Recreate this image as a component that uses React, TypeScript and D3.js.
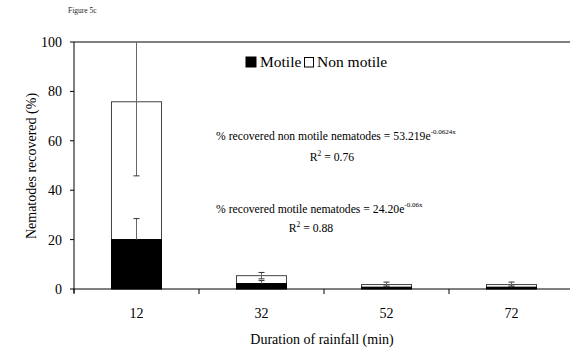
import React from "react";
import * as d3 from "d3";

const durations = ["12", "32", "52", "72"];
const motile = [20, 2.2, 0.7, 0.7];
const nonMotile = [55.8, 3.2, 1.1, 1.1];
const motileErr = [8.5, 1.2, 0.5, 0.5];
const totalErr = [30, 1.3, 1.0, 1.0];
const yTicks = [0, 20, 40, 60, 80, 100];

const W = 570;
const H = 352;
const left = 74;
const right = 574;
const top = 42;
const bottom = 289;
const FONT = '"Liberation Serif", "Times New Roman", Times, "DejaVu Serif", serif';

export default function App() {
  const x = d3.scaleBand<string>().domain(durations).range([left, right]).paddingInner(0.6).paddingOuter(0.3);
  const y = d3.scaleLinear().domain([0, 100]).range([bottom, top]);
  const step = x.step();
  const bw = x.bandwidth();
  const boundaries = d3.range(durations.length + 1).map((i) => left + i * step);
  const cap = 3;
  const errColor = "#666";

  return (
    <svg width={W} height={H} style={{ position: "absolute", left: 0, top: 0, background: "#fff", fontFamily: FONT }}>
      <defs>
        <clipPath id="plot">
          <rect x={left} y={top} width={right - left} height={bottom - top + 1} />
        </clipPath>
      </defs>
      <text x={68} y={13} fontSize={7.5} fill="#222">Figure 5c</text>

      <line x1={left} x2={right} y1={top} y2={top} stroke="#000" />

      <g clipPath="url(#plot)">
        {durations.map((d, i) => {
          const x0 = x(d)!;
          const cx = x0 + bw / 2;
          const tot = motile[i] + nonMotile[i];
          return (
            <g key={d}>
              <rect x={x0} y={y(tot)} width={bw} height={y(motile[i]) - y(tot)} fill="#fff" stroke="#444" strokeWidth={1} />
              <line x1={cx} x2={cx} y1={y(tot - totalErr[i])} y2={y(tot + totalErr[i])} stroke={errColor} />
              <line x1={cx - cap} x2={cx + cap} y1={y(tot - totalErr[i])} y2={y(tot - totalErr[i])} stroke="#333" />
              <line x1={cx - cap} x2={cx + cap} y1={y(tot + totalErr[i])} y2={y(tot + totalErr[i])} stroke="#333" />
              <rect x={x0} y={y(motile[i])} width={bw} height={y(0) - y(motile[i])} fill="#000" stroke="#000" />
              <line x1={cx} x2={cx} y1={y(motile[i])} y2={y(motile[i] + motileErr[i])} stroke={errColor} />
              <line x1={cx - cap} x2={cx + cap} y1={y(motile[i] + motileErr[i])} y2={y(motile[i] + motileErr[i])} stroke="#333" />
            </g>
          );
        })}
      </g>

      <line x1={left} x2={left} y1={top} y2={bottom + 4} stroke="#000" />
      <line x1={left} x2={right} y1={bottom} y2={bottom} stroke="#000" />
      {boundaries.map((b, i) => (
        <line key={i} x1={b} x2={b} y1={bottom} y2={bottom + 5} stroke="#000" />
      ))}
      {yTicks.map((t) => (
        <g key={t}>
          <line x1={left - 4} x2={left} y1={y(t)} y2={y(t)} stroke="#000" />
          <text x={62} y={y(t)} dy="0.35em" textAnchor="end" fontSize={14}>{t}</text>
        </g>
      ))}
      {durations.map((d) => (
        <text key={d} x={x(d)! + bw / 2} y={318} textAnchor="middle" fontSize={14}>{d}</text>
      ))}

      <text x={322} y={344} textAnchor="middle" fontSize={14}>Duration of rainfall (min)</text>
      <text transform={`translate(36,166) rotate(-90)`} textAnchor="middle" fontSize={14}>Nematodes recovered (%)</text>

      <rect x={246} y={57} width={10} height={10} fill="#000" stroke="#000" />
      <text x={260} y={67} fontSize={15.5}>Motile</text>
      <rect x={304.5} y={57.5} width={9} height={9.5} fill="#fff" stroke="#000" />
      <text x={317} y={67} fontSize={15.5}>Non motile</text>

      <text x={216} y={140} fontSize={11.7}>
        % recovered non motile nematodes = 53.219e
        <tspan dy={-6} fontSize={7}>-0.0624x</tspan>
      </text>
      <text x={332} y={161} textAnchor="middle" fontSize={11.7}>
        R<tspan dy={-5} fontSize={7.5}>2</tspan><tspan dy={5}> = 0.76</tspan>
      </text>
      <text x={216} y={213} fontSize={11.7}>
        % recovered motile nematodes = 24.20e
        <tspan dy={-6} fontSize={7}>-0.06x</tspan>
      </text>
      <text x={311} y={232} textAnchor="middle" fontSize={11.7}>
        R<tspan dy={-5} fontSize={7.5}>2</tspan><tspan dy={5}> = 0.88</tspan>
      </text>
    </svg>
  );
}
